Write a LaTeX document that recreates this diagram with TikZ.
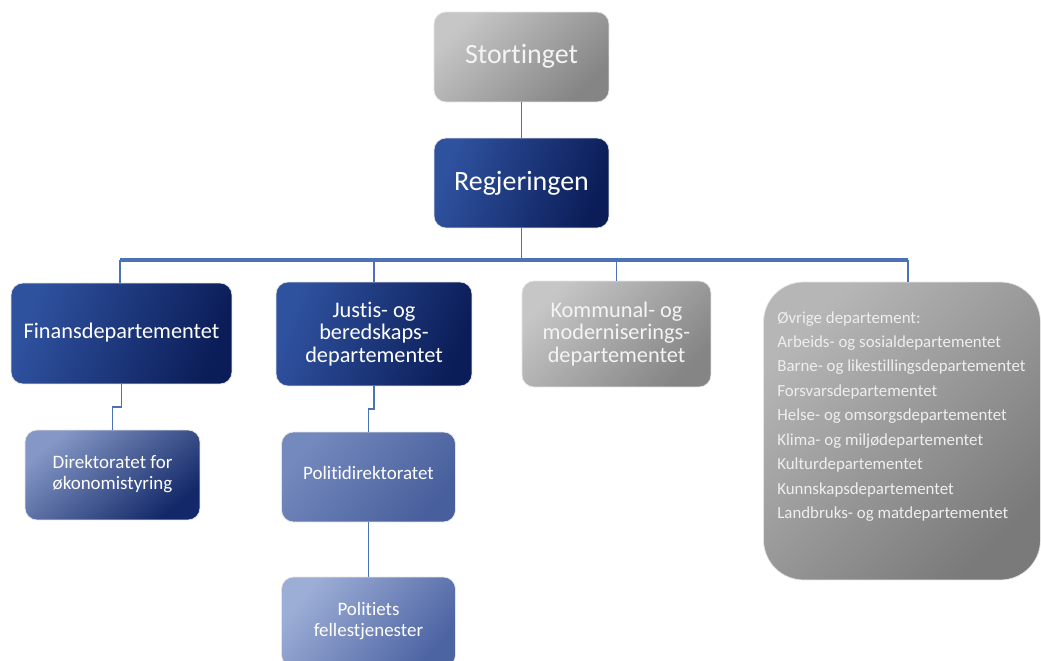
\documentclass[tikz,border=0pt]{standalone}
\usepackage{fontspec}
\setmainfont{Carlito}[Ligatures={NoCommon,NoRequired,NoContextual}]
\usetikzlibrary{calc}
\definecolor{connc}{HTML}{4A72B5}
\definecolor{dbL}{HTML}{2F529F}
\definecolor{dbR}{HTML}{0B1D58}
\definecolor{grL}{HTML}{C6C6C6}
\definecolor{grR}{HTML}{858585}
\definecolor{lbL}{HTML}{8497C6}
\definecolor{lbR}{HTML}{132868}
\definecolor{mbL}{HTML}{7489BD}
\definecolor{mbR}{HTML}{475F9C}
\definecolor{pbL}{HTML}{9DAED6}
\definecolor{pbR}{HTML}{4D64A3}
\definecolor{txtg}{HTML}{F4F4F4}
\newcommand{\upbox}[2]{\raisebox{#1}{\begin{tabular}{@{}c@{}}#2\end{tabular}}}
\tikzset{
  box/.style={rounded corners=0.24cm, draw=black!10, line width=0.4pt, align=center, inner sep=2pt},
  darkbox/.style={box, top color=dbL, bottom color=dbR, shading angle=70, text=white},
  graybox/.style={box, top color=grL, bottom color=grR, shading angle=45, text=txtg},
  subbox/.style={box, top color=lbL, bottom color=lbR, shading angle=40, text=white, font=\fontsize{10.8pt}{11.6pt}\selectfont},
  midbox/.style={box, top color=mbL, bottom color=mbR, shading angle=50, text=white, font=\fontsize{10.8pt}{11.6pt}\selectfont},
  palebox/.style={box, top color=pbL, bottom color=pbR, shading angle=50, text=white, font=\fontsize{10.8pt}{11.6pt}\selectfont},
  bigfont/.style={font=\fontsize{15.9pt}{18pt}\selectfont},
  deptfont/.style={font=\fontsize{12.7pt}{12.6pt}\selectfont},
  conn/.style={draw=connc, line width=1.1pt},
  barline/.style={draw=connc, line width=1.8pt},
}
\begin{document}
\begin{tikzpicture}[x=0.02cm, y=-0.02cm]
\useasboundingbox (0,0) rectangle (1041,661);
% boxes
\node[graybox, bigfont, minimum width=3.5cm, minimum height=1.8cm] (stort) at (521.5,57) {\raisebox{0.12cm}{Stortinget}};
\node[darkbox, bigfont, minimum width=3.5cm, minimum height=1.8cm] (regj) at (521.5,183) {\raisebox{0.06cm}{Regjeringen}};
\node[darkbox, deptfont, minimum width=4.42cm, minimum height=2.02cm] (finans) at (121.5,333.5) {\raisebox{0.12cm}{Finansdepartementet}};
\node[darkbox, deptfont, minimum width=3.92cm, minimum height=2.08cm] (justis) at (374,334) {Justis- og\\beredskaps-\\departementet};
\node[graybox, deptfont, minimum width=3.78cm, minimum height=2.12cm] (komm) at (616.5,334) {Kommunal- og\\moderniserings-\\departementet};
\node[box, rounded corners=0.8cm, top color=grL!92!black, bottom color=grR!92!black, shading angle=45, minimum width=5.54cm, minimum height=5.96cm] (ovr) at (902,431) {};
\node[anchor=north west, align=left, text=txtg!95!gray, inner sep=0pt, font=\fontsize{9.6pt}{13.9pt}\selectfont] (ovrtext) at (777,311) {Øvrige departement:\\Arbeids- og sosialdepartementet\\Barne- og likestillingsdepartementet\\Forsvarsdepartementet\\Helse- og omsorgsdepartementet\\Klima- og miljødepartementet\\Kulturdepartementet\\Kunnskapsdepartementet\\Landbruks- og matdepartementet};
\node[subbox, minimum width=3.5cm, minimum height=1.8cm] (dir) at (112.5,475) {\upbox{0.08cm}{Direktoratet for\\økonomistyring}};
\node[midbox, minimum width=3.48cm, minimum height=1.8cm] (poldir) at (368.5,477) {\raisebox{0.16cm}{Politidirektoratet}};
\node[palebox, minimum width=3.48cm, minimum height=1.8cm] (polfel) at (368.5,622) {\upbox{0.08cm}{Politiets\\fellestjenester}};
% connectors
\coordinate (barL) at (120,260);
\coordinate (barR) at (908,260);
\coordinate (ovrtop) at (908,282);
\draw[conn] (stort.south) -- (regj.north);
\draw[conn] (regj.south) -- (regj.south |- barL);
\draw[barline] (barL) -- (barR);
\draw[conn] (finans.north -| barL) -- (barL);
\draw[conn] (justis.north) -- (justis.north |- barL);
\draw[conn] (komm.north) -- (komm.north |- barL);
\draw[conn] (ovrtop) -- (barR);
\draw[conn] (finans.south) |- ($(finans.south)!0.5!(dir.north)$) -| (dir.north);
\draw[conn] (justis.south) |- ($(justis.south)!0.5!(poldir.north)$) -| (poldir.north);
\draw[conn] (poldir.south) -- (polfel.north);
\end{tikzpicture}
\end{document}
